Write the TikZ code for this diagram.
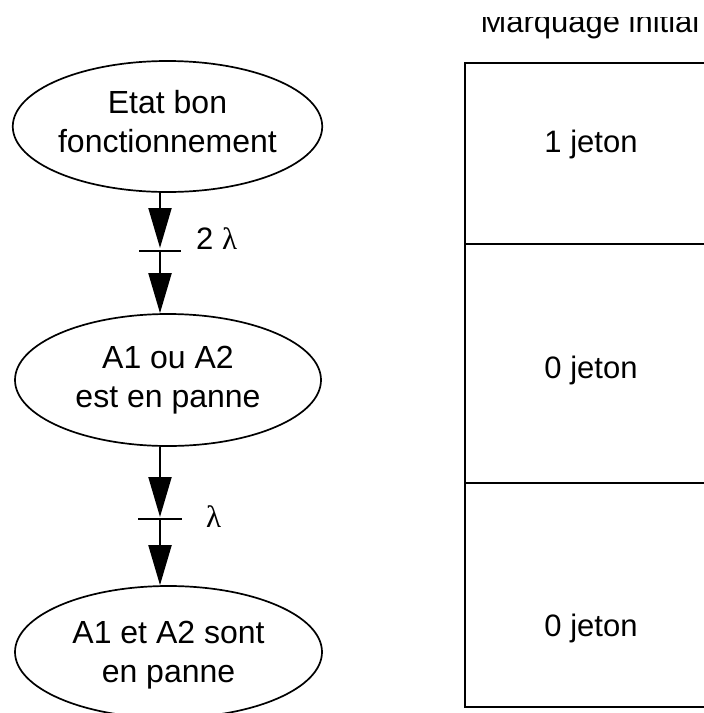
\documentclass[tikz,border=0pt]{standalone}
\usepackage{fontspec}
\setmainfont{Liberation Sans}
\newfontfamily\lamfont{Liberation Serif}
\usetikzlibrary{arrows.meta,shapes.geometric}
\newcommand{\diagfont}{\fontsize{31}{39}\selectfont}
\newcommand{\placefont}{\fontsize{32}{39}\selectfont}
\begin{document}
\begin{tikzpicture}[x=1pt,y=-1pt,
  state/.style={ellipse,draw,line width=1.7pt,inner sep=0pt,align=center,font=\placefont},
  link/.style={line width=2pt,-{Triangle[length=40pt,width=23pt]}},
  tbar/.style={line width=2pt},
  cell/.style={rectangle,draw,line width=2.2pt,minimum width=252pt,inner sep=0pt},
  txt/.style={font=\diagfont,inner sep=0pt,anchor=base}
]
\clip (0,0) rectangle (704,713);
\fill[white] (0,0) rectangle (704,713);

% places of the Petri net
\node[state,minimum width=309pt,minimum height=131pt,text depth=10pt] (e1) at (167.5,126.5) {Etat bon\\fonctionnement};
\node[state,minimum width=306pt,minimum height=132pt] (e2) at (168,380) {A1 ou A2\\est en panne};
\node[state,minimum width=307pt,minimum height=132pt,text depth=1pt] (e3) at (168.5,652) {A1 et A2 sont\\en panne};

% transitions
\coordinate (b1) at (160,251);
\coordinate (b2) at (160,519);
\draw[link,shorten >=3pt] (e1.south -| b1) -- (b1);
\draw[link] (b1) -- (e2.north -| b1);
\draw[tbar] ([xshift=-21pt]b1) -- ([xshift=21pt]b1);
\draw[link,shorten >=2pt] (e2.south -| b2) -- (b2);
\draw[link] (b2) -- (e3.north -| b2);
\draw[tbar] ([xshift=-22pt]b2) -- ([xshift=22pt]b2);

\node[txt,anchor=base west] (r1) at (196,249) {2 {\lamfont λ}};
\node[txt,anchor=base west] (r2) at (206,527) {{\lamfont λ}};

% initial marking table
\node[cell,minimum height=181pt] (c1) at (591,153.5) {};
\node[cell,minimum height=239pt] (c2) at (591,363.5) {};
\node[cell,minimum height=224pt] (c3) at (591,595) {};
\node[txt] (m1) at (591,152) {1 jeton};
\node[txt] (m2) at (591,378) {0 jeton};
\node[txt] (m3) at (591,636) {0 jeton};

\begin{scope}
  \clip (0,17) rectangle (704,60);
  \node[txt] (title) at (590,32) {Marquage initial};
\end{scope}
\end{tikzpicture}
\end{document}
